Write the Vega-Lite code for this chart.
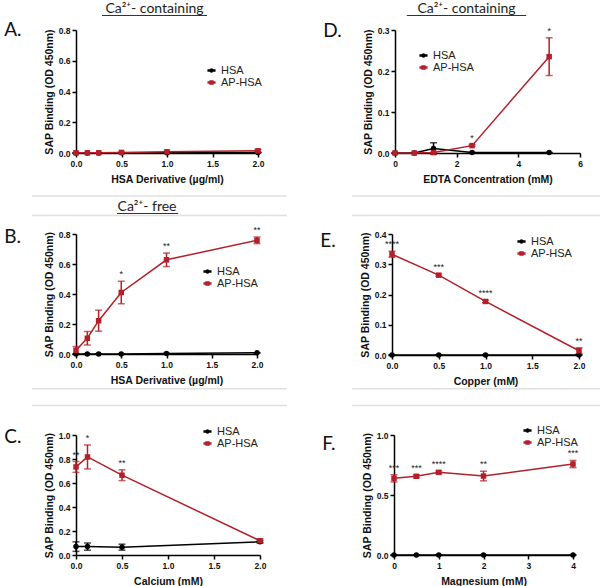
{
  "$schema": "https://vega.github.io/schema/vega-lite/v6.json",
  "padding": {"left": 4, "top": 2, "right": 0, "bottom": 0},
  "background": "white",
  "datasets": {
    "d": [
      {"p":"A","s":"HSA","x":0,"y":0,"e":0},
      {"p":"A","s":"HSA","x":0.125,"y":0,"e":0},
      {"p":"A","s":"HSA","x":0.25,"y":0,"e":0},
      {"p":"A","s":"HSA","x":0.5,"y":0.001,"e":0},
      {"p":"A","s":"HSA","x":1,"y":0.002,"e":0},
      {"p":"A","s":"HSA","x":2,"y":0.003,"e":0},
      {"p":"A","s":"AP-HSA","x":0,"y":0.001,"e":0},
      {"p":"A","s":"AP-HSA","x":0.125,"y":0.001,"e":0},
      {"p":"A","s":"AP-HSA","x":0.25,"y":0.001,"e":0},
      {"p":"A","s":"AP-HSA","x":0.5,"y":0.004,"e":0.002},
      {"p":"A","s":"AP-HSA","x":1,"y":0.008,"e":0.004},
      {"p":"A","s":"AP-HSA","x":2,"y":0.014,"e":0.01},
      {"p":"B","s":"HSA","x":0,"y":0,"e":0},
      {"p":"B","s":"HSA","x":0.125,"y":0,"e":0},
      {"p":"B","s":"HSA","x":0.25,"y":0,"e":0},
      {"p":"B","s":"HSA","x":0.5,"y":0,"e":0},
      {"p":"B","s":"HSA","x":1,"y":0.003,"e":0},
      {"p":"B","s":"HSA","x":2,"y":0.008,"e":0},
      {"p":"B","s":"AP-HSA","x":0,"y":0.025,"e":0.025},
      {"p":"B","s":"AP-HSA","x":0.125,"y":0.105,"e":0.045},
      {"p":"B","s":"AP-HSA","x":0.25,"y":0.222,"e":0.07},
      {"p":"B","s":"AP-HSA","x":0.5,"y":0.41,"e":0.075,"sig":"*"},
      {"p":"B","s":"AP-HSA","x":1,"y":0.628,"e":0.045,"sig":"**"},
      {"p":"B","s":"AP-HSA","x":2,"y":0.758,"e":0.022,"sig":"**"},
      {"p":"C","s":"HSA","x":0,"y":0.07,"e":0.04},
      {"p":"C","s":"HSA","x":0.125,"y":0.07,"e":0.03},
      {"p":"C","s":"HSA","x":0.5,"y":0.065,"e":0.025},
      {"p":"C","s":"HSA","x":2,"y":0.11,"e":0.01},
      {"p":"C","s":"AP-HSA","x":0,"y":0.734,"e":0.045,"sig":"**"},
      {"p":"C","s":"AP-HSA","x":0.125,"y":0.817,"e":0.1,"sig":"*"},
      {"p":"C","s":"AP-HSA","x":0.5,"y":0.665,"e":0.045,"sig":"**"},
      {"p":"C","s":"AP-HSA","x":2,"y":0.119,"e":0.015},
      {"p":"D","s":"HSA","x":0,"y":0,"e":0},
      {"p":"D","s":"HSA","x":0.625,"y":0,"e":0},
      {"p":"D","s":"HSA","x":1.25,"y":0.011,"e":0.014},
      {"p":"D","s":"HSA","x":2.5,"y":0.001,"e":0},
      {"p":"D","s":"HSA","x":5,"y":0.001,"e":0},
      {"p":"D","s":"AP-HSA","x":0,"y":0,"e":0},
      {"p":"D","s":"AP-HSA","x":0.625,"y":0,"e":0},
      {"p":"D","s":"AP-HSA","x":1.25,"y":0.001,"e":0},
      {"p":"D","s":"AP-HSA","x":2.5,"y":0.018,"e":0.002,"sig":"*"},
      {"p":"D","s":"AP-HSA","x":5,"y":0.235,"e":0.046,"sig":"*"},
      {"p":"E","s":"HSA","x":0,"y":0,"e":0},
      {"p":"E","s":"HSA","x":0.5,"y":0,"e":0},
      {"p":"E","s":"HSA","x":1,"y":0,"e":0},
      {"p":"E","s":"HSA","x":2,"y":0,"e":0},
      {"p":"E","s":"AP-HSA","x":0,"y":0.333,"e":0.01,"sig":"****"},
      {"p":"E","s":"AP-HSA","x":0.5,"y":0.264,"e":0.004,"sig":"***"},
      {"p":"E","s":"AP-HSA","x":1,"y":0.177,"e":0.004,"sig":"****"},
      {"p":"E","s":"AP-HSA","x":2,"y":0.014,"e":0.01,"sig":"**"},
      {"p":"F","s":"HSA","x":0,"y":0,"e":0},
      {"p":"F","s":"HSA","x":0.5,"y":0,"e":0},
      {"p":"F","s":"HSA","x":1,"y":0,"e":0},
      {"p":"F","s":"HSA","x":2,"y":0,"e":0},
      {"p":"F","s":"HSA","x":4,"y":0,"e":0},
      {"p":"F","s":"AP-HSA","x":0,"y":0.639,"e":0.03,"sig":"***"},
      {"p":"F","s":"AP-HSA","x":0.5,"y":0.656,"e":0.012,"sig":"***"},
      {"p":"F","s":"AP-HSA","x":1,"y":0.689,"e":0.012,"sig":"****"},
      {"p":"F","s":"AP-HSA","x":2,"y":0.658,"e":0.04,"sig":"**"},
      {"p":"F","s":"AP-HSA","x":4,"y":0.758,"e":0.03,"sig":"***"}
    ]
  },
  "config": {
    "view": {"stroke": null},
    "axis": {"domainColor": "#000", "domainWidth": 1.5, "tickColor": "#000", "tickWidth": 1.5, "tickSize": 4, "grid": false,
      "labelFont": "Liberation Sans", "labelFontWeight": "bold", "labelFontSize": 8.5, "labelColor": "#111", "labelPadding": 2, "labelFlush": false,
      "titleFont": "Liberation Sans", "titleFontWeight": "bold", "titleFontSize": 10.5, "titleColor": "#111", "titlePadding": 4},
    "axisX": {"titlePadding": 7},
    "legend": {"labelFont": "Liberation Sans", "labelFontSize": 11, "labelColor": "#222", "symbolSize": 36, "rowPadding": 0, "labelOffset": 4, "padding": 0, "symbolOpacity": 1},
    "title": {"font": "Lato", "fontSize": 19, "fontWeight": "normal", "color": "#111", "anchor": "start", "frame": "bounds", "offset": 0, "baseline": "alphabetic"}
  },
  "spacing": 0,
  "resolve": {"scale": {"color": "independent", "shape": "independent"}, "legend": {"color": "independent", "shape": "independent"}},
  "vconcat": [
    {
      "width": 521, "height": 19,
      "data": {"values": [{}]},
      "layer": [
        {"mark": {"type": "text", "text": "Ca²⁺- containing", "font": "Lato", "fontSize": 14, "color": "#222", "baseline": "alphabetic"},
         "encoding": {"x": {"datum": 0.2575, "type": "quantitative", "scale": {"domain": [0, 1], "range": [-76, 524]}, "axis": null}, "y": {"datum": 0.421, "type": "quantitative", "scale": {"domain": [0, 1]}, "axis": null}}},
        {"mark": {"type": "text", "text": "Ca²⁺- containing", "font": "Lato", "fontSize": 14, "color": "#222", "baseline": "alphabetic"},
         "encoding": {"x": {"datum": 0.7775, "type": "quantitative"}, "y": {"datum": 0.421, "type": "quantitative"}}},
        {"mark": {"type": "rule", "color": "#333", "strokeWidth": 1},
         "encoding": {"x": {"datum": 0.17, "type": "quantitative"}, "x2": {"datum": 0.345}, "y": {"datum": 0.289, "type": "quantitative"}}},
        {"mark": {"type": "rule", "color": "#333", "strokeWidth": 1},
         "encoding": {"x": {"datum": 0.678, "type": "quantitative"}, "x2": {"datum": 0.877}, "y": {"datum": 0.289, "type": "quantitative"}}}
      ]
    },
    {
      "spacing": 59,
      "resolve": {"scale": {"color": "independent", "shape": "independent"}, "legend": {"color": "independent", "shape": "independent"}},
      "hconcat": [
        {
          "width": 182, "height": 123,
          "title": {"text": "A.", "dx": -40, "dy": 18},
          "data": {"name": "d"},
          "transform": [{"filter": "datum.p == 'A'"}],
          "encoding": {
            "x": {"field": "x", "type": "quantitative", "scale": {"domain": [0, 2], "nice": false, "zero": false}, "axis": {"values": [0, 0.5, 1, 1.5, 2], "format": ".1f", "title": "HSA Derivative (µg/ml)"}},
            "y": {"field": "y", "type": "quantitative", "scale": {"domain": [0, 0.8], "nice": false}, "axis": {"values": [0, 0.2, 0.4, 0.6, 0.8], "format": ".1f", "title": "SAP Binding (OD 450nm)"}},
            "color": {"field": "s", "type": "nominal", "scale": {"domain": ["HSA", "AP-HSA"], "range": ["#000000", "#b3202a"]},
              "legend": {"orient": "none", "legendX": 130, "legendY": 35, "title": null}}
          },
          "layer": [
            {"transform": [{"filter": "false"}], "mark": {"type": "point", "filled": true, "opacity": 1},
             "encoding": {"shape": {"field": "s", "type": "nominal", "scale": {"domain": ["HSA", "AP-HSA"], "range": ["M-1.1,-0.14H1.1V0.14H-1.1ZM0.5,0A0.5,0.5,0,1,1,-0.5,0A0.5,0.5,0,1,1,0.5,0Z", "M-1.1,-0.14H1.1V0.14H-1.1ZM-0.48,-0.48H0.48V0.48H-0.48Z"]},
               "legend": {"orient": "none", "legendX": 130, "legendY": 35, "title": null}}}},
            {"mark": {"type": "errorbar", "ticks": {"size": 7}, "thickness": 1.5}, "encoding": {"yError": {"field": "e"}}},
            {"mark": {"type": "line", "strokeWidth": 1.5}},
            {"transform": [{"filter": "datum.s == 'HSA'"}], "mark": {"type": "point", "shape": "circle", "filled": true, "size": 30, "opacity": 1}},
            {"transform": [{"filter": "datum.s == 'AP-HSA'"}], "mark": {"type": "point", "shape": "square", "filled": true, "size": 30, "opacity": 1}},
            {"transform": [{"filter": "datum.sig"}, {"calculate": "datum.y + datum.e", "as": "hi"}], "mark": {"type": "text", "dy": -4, "fontSize": 9, "font": "Liberation Sans", "baseline": "alphabetic"}, "encoding": {"y": {"field": "hi", "type": "quantitative"}, "text": {"field": "sig"}, "color": {"value": "#222"}}}
          ]
        },
        {
          "width": 185, "height": 123,
          "title": {"text": "D.", "dx": -40, "dy": 19},
          "data": {"name": "d"},
          "transform": [{"filter": "datum.p == 'D'"}],
          "encoding": {
            "x": {"field": "x", "type": "quantitative", "scale": {"domain": [0, 6], "nice": false, "zero": false}, "axis": {"values": [0, 2, 4, 6], "format": "d", "title": "EDTA Concentration (mM)"}},
            "y": {"field": "y", "type": "quantitative", "scale": {"domain": [0, 0.3], "nice": false}, "axis": {"values": [0, 0.1, 0.2, 0.3], "format": ".1f", "title": "SAP Binding (OD 450nm)"}},
            "color": {"field": "s", "type": "nominal", "scale": {"domain": ["HSA", "AP-HSA"], "range": ["#000000", "#b3202a"]},
              "legend": {"orient": "none", "legendX": 23, "legendY": 20, "title": null}}
          },
          "layer": [
            {"transform": [{"filter": "false"}], "mark": {"type": "point", "filled": true, "opacity": 1},
             "encoding": {"shape": {"field": "s", "type": "nominal", "scale": {"domain": ["HSA", "AP-HSA"], "range": ["M-1.1,-0.14H1.1V0.14H-1.1ZM0.5,0A0.5,0.5,0,1,1,-0.5,0A0.5,0.5,0,1,1,0.5,0Z", "M-1.1,-0.14H1.1V0.14H-1.1ZM-0.48,-0.48H0.48V0.48H-0.48Z"]},
               "legend": {"orient": "none", "legendX": 23, "legendY": 20, "title": null}}}},
            {"mark": {"type": "errorbar", "ticks": {"size": 7}, "thickness": 1.5}, "encoding": {"yError": {"field": "e"}}},
            {"mark": {"type": "line", "strokeWidth": 1.5}},
            {"transform": [{"filter": "datum.s == 'HSA'"}], "mark": {"type": "point", "shape": "circle", "filled": true, "size": 30, "opacity": 1}},
            {"transform": [{"filter": "datum.s == 'AP-HSA'"}], "mark": {"type": "point", "shape": "square", "filled": true, "size": 30, "opacity": 1}},
            {"transform": [{"filter": "datum.sig"}, {"calculate": "datum.y + datum.e", "as": "hi"}], "mark": {"type": "text", "dy": -4, "fontSize": 9, "font": "Liberation Sans", "baseline": "alphabetic"}, "encoding": {"y": {"field": "hi", "type": "quantitative"}, "text": {"field": "sig"}, "color": {"value": "#222"}}}
          ]
        }
      ]
    },
    {
      "width": 521, "height": 41,
      "data": {"values": [{}]},
      "layer": [
        {"mark": {"type": "rule", "color": "#e0e0e0", "strokeWidth": 1.5},
         "encoding": {"x": {"datum": 0.053, "type": "quantitative", "scale": {"domain": [0, 1], "range": [-76, 524]}, "axis": null}, "x2": {"datum": 0.478}, "y": {"datum": 0.732, "type": "quantitative", "scale": {"domain": [0, 1]}, "axis": null}}},
        {"mark": {"type": "rule", "color": "#e0e0e0", "strokeWidth": 1.5},
         "encoding": {"x": {"datum": 0.587, "type": "quantitative"}, "x2": {"datum": 1}, "y": {"datum": 0.732, "type": "quantitative"}}},
        {"mark": {"type": "rule", "color": "#e0e0e0", "strokeWidth": 1.5},
         "encoding": {"x": {"datum": 0.053, "type": "quantitative"}, "x2": {"datum": 0.478}, "y": {"datum": 0.256, "type": "quantitative"}}},
        {"mark": {"type": "rule", "color": "#e0e0e0", "strokeWidth": 1.5},
         "encoding": {"x": {"datum": 0.587, "type": "quantitative"}, "x2": {"datum": 1}, "y": {"datum": 0.256, "type": "quantitative"}}},
        {"mark": {"type": "text", "text": "Ca²⁺- free", "font": "Lato", "fontSize": 14, "color": "#222", "baseline": "alphabetic"},
         "encoding": {"x": {"datum": 0.245, "type": "quantitative"}, "y": {"datum": 0.366, "type": "quantitative"}}},
        {"mark": {"type": "rule", "color": "#333", "strokeWidth": 1},
         "encoding": {"x": {"datum": 0.195, "type": "quantitative"}, "x2": {"datum": 0.297}, "y": {"datum": 0.305, "type": "quantitative"}}}
      ]
    },
    {
      "spacing": 57,
      "resolve": {"scale": {"color": "independent", "shape": "independent"}, "legend": {"color": "independent", "shape": "independent"}},
      "hconcat": [
        {
          "width": 181, "height": 120,
          "title": {"text": "B.", "dx": -40, "dy": 25},
          "data": {"name": "d"},
          "transform": [{"filter": "datum.p == 'B'"}],
          "encoding": {
            "x": {"field": "x", "type": "quantitative", "scale": {"domain": [0, 2], "nice": false, "zero": false}, "axis": {"values": [0, 0.5, 1, 1.5, 2], "format": ".1f", "title": "HSA Derivative (µg/ml)"}},
            "y": {"field": "y", "type": "quantitative", "scale": {"domain": [0, 0.8], "nice": false}, "axis": {"values": [0, 0.2, 0.4, 0.6, 0.8], "format": ".1f", "title": "SAP Binding (OD 450nm)"}},
            "color": {"field": "s", "type": "nominal", "scale": {"domain": ["HSA", "AP-HSA"], "range": ["#000000", "#b3202a"]},
              "legend": {"orient": "none", "legendX": 126, "legendY": 32, "title": null}}
          },
          "layer": [
            {"transform": [{"filter": "false"}], "mark": {"type": "point", "filled": true, "opacity": 1},
             "encoding": {"shape": {"field": "s", "type": "nominal", "scale": {"domain": ["HSA", "AP-HSA"], "range": ["M-1.1,-0.14H1.1V0.14H-1.1ZM0.5,0A0.5,0.5,0,1,1,-0.5,0A0.5,0.5,0,1,1,0.5,0Z", "M-1.1,-0.14H1.1V0.14H-1.1ZM-0.48,-0.48H0.48V0.48H-0.48Z"]},
               "legend": {"orient": "none", "legendX": 126, "legendY": 32, "title": null}}}},
            {"mark": {"type": "errorbar", "ticks": {"size": 7}, "thickness": 1.5}, "encoding": {"yError": {"field": "e"}}},
            {"mark": {"type": "line", "strokeWidth": 1.5}},
            {"transform": [{"filter": "datum.s == 'HSA'"}], "mark": {"type": "point", "shape": "circle", "filled": true, "size": 30, "opacity": 1}},
            {"transform": [{"filter": "datum.s == 'AP-HSA'"}], "mark": {"type": "point", "shape": "square", "filled": true, "size": 30, "opacity": 1}},
            {"transform": [{"filter": "datum.sig"}, {"calculate": "datum.y + datum.e", "as": "hi"}], "mark": {"type": "text", "dy": -4, "fontSize": 9, "font": "Liberation Sans", "baseline": "alphabetic"}, "encoding": {"y": {"field": "hi", "type": "quantitative"}, "text": {"field": "sig"}, "color": {"value": "#222"}}}
          ]
        },
        {
          "width": 187, "height": 121,
          "title": {"text": "E.", "dx": -40, "dy": 25},
          "data": {"name": "d"},
          "transform": [{"filter": "datum.p == 'E'"}],
          "encoding": {
            "x": {"field": "x", "type": "quantitative", "scale": {"domain": [0, 2], "nice": false, "zero": false}, "axis": {"values": [0, 0.5, 1, 1.5, 2], "format": ".1f", "title": "Copper (mM)"}},
            "y": {"field": "y", "type": "quantitative", "scale": {"domain": [0, 0.4], "nice": false}, "axis": {"values": [0, 0.1, 0.2, 0.3, 0.4], "format": ".1f", "title": "SAP Binding (OD 450nm)"}},
            "color": {"field": "s", "type": "nominal", "scale": {"domain": ["HSA", "AP-HSA"], "range": ["#000000", "#b3202a"]},
              "legend": {"orient": "none", "legendX": 124, "legendY": 2, "title": null}}
          },
          "layer": [
            {"transform": [{"filter": "false"}], "mark": {"type": "point", "filled": true, "opacity": 1},
             "encoding": {"shape": {"field": "s", "type": "nominal", "scale": {"domain": ["HSA", "AP-HSA"], "range": ["M-1.1,-0.14H1.1V0.14H-1.1ZM0.5,0A0.5,0.5,0,1,1,-0.5,0A0.5,0.5,0,1,1,0.5,0Z", "M-1.1,-0.14H1.1V0.14H-1.1ZM-0.48,-0.48H0.48V0.48H-0.48Z"]},
               "legend": {"orient": "none", "legendX": 124, "legendY": 2, "title": null}}}},
            {"mark": {"type": "errorbar", "ticks": {"size": 7}, "thickness": 1.5}, "encoding": {"yError": {"field": "e"}}},
            {"mark": {"type": "line", "strokeWidth": 1.5}},
            {"transform": [{"filter": "datum.s == 'HSA'"}], "mark": {"type": "point", "shape": "circle", "filled": true, "size": 30, "opacity": 1}},
            {"transform": [{"filter": "datum.s == 'AP-HSA'"}], "mark": {"type": "point", "shape": "square", "filled": true, "size": 30, "opacity": 1}},
            {"transform": [{"filter": "datum.sig"}, {"calculate": "datum.y + datum.e", "as": "hi"}], "mark": {"type": "text", "dy": -4, "fontSize": 9, "font": "Liberation Sans", "baseline": "alphabetic"}, "encoding": {"y": {"field": "hi", "type": "quantitative"}, "text": {"field": "sig"}, "color": {"value": "#222"}}}
          ]
        }
      ]
    },
    {
      "width": 521, "height": 37,
      "data": {"values": [{}]},
      "layer": [
        {"mark": {"type": "rule", "color": "#e0e0e0", "strokeWidth": 1.5},
         "encoding": {"x": {"datum": 0.053, "type": "quantitative", "scale": {"domain": [0, 1], "range": [-76, 524]}, "axis": null}, "x2": {"datum": 0.478}, "y": {"datum": 0.98, "type": "quantitative", "scale": {"domain": [0, 1]}, "axis": null}}},
        {"mark": {"type": "rule", "color": "#e0e0e0", "strokeWidth": 1.5},
         "encoding": {"x": {"datum": 0.587, "type": "quantitative"}, "x2": {"datum": 1}, "y": {"datum": 0.98, "type": "quantitative"}}},
        {"mark": {"type": "rule", "color": "#e0e0e0", "strokeWidth": 1.5},
         "encoding": {"x": {"datum": 0.053, "type": "quantitative"}, "x2": {"datum": 0.478}, "y": {"datum": 0.527, "type": "quantitative"}}},
        {"mark": {"type": "rule", "color": "#e0e0e0", "strokeWidth": 1.5},
         "encoding": {"x": {"datum": 0.587, "type": "quantitative"}, "x2": {"datum": 1}, "y": {"datum": 0.527, "type": "quantitative"}}}
      ]
    },
    {
      "spacing": 56,
      "resolve": {"scale": {"color": "independent", "shape": "independent"}, "legend": {"color": "independent", "shape": "independent"}},
      "hconcat": [
        {
          "width": 184, "height": 120,
          "title": {"text": "C.", "dx": -40, "dy": 25},
          "data": {"name": "d"},
          "transform": [{"filter": "datum.p == 'C'"}],
          "encoding": {
            "x": {"field": "x", "type": "quantitative", "scale": {"domain": [0, 2], "nice": false, "zero": false}, "axis": {"values": [0, 0.5, 1, 1.5, 2], "format": ".1f", "title": "Calcium (mM)"}},
            "y": {"field": "y", "type": "quantitative", "scale": {"domain": [0, 1], "nice": false}, "axis": {"values": [0, 0.2, 0.4, 0.6, 0.8, 1], "format": ".1f", "title": "SAP Binding (OD 450nm)"}},
            "color": {"field": "s", "type": "nominal", "scale": {"domain": ["HSA", "AP-HSA"], "range": ["#000000", "#b3202a"]},
              "legend": {"orient": "none", "legendX": 126, "legendY": -9, "title": null}}
          },
          "layer": [
            {"transform": [{"filter": "false"}], "mark": {"type": "point", "filled": true, "opacity": 1},
             "encoding": {"shape": {"field": "s", "type": "nominal", "scale": {"domain": ["HSA", "AP-HSA"], "range": ["M-1.1,-0.14H1.1V0.14H-1.1ZM0.5,0A0.5,0.5,0,1,1,-0.5,0A0.5,0.5,0,1,1,0.5,0Z", "M-1.1,-0.14H1.1V0.14H-1.1ZM-0.48,-0.48H0.48V0.48H-0.48Z"]},
               "legend": {"orient": "none", "legendX": 126, "legendY": -9, "title": null}}}},
            {"mark": {"type": "errorbar", "ticks": {"size": 7}, "thickness": 1.5}, "encoding": {"yError": {"field": "e"}}},
            {"mark": {"type": "line", "strokeWidth": 1.5}},
            {"transform": [{"filter": "datum.s == 'HSA'"}], "mark": {"type": "point", "shape": "circle", "filled": true, "size": 30, "opacity": 1}},
            {"transform": [{"filter": "datum.s == 'AP-HSA'"}], "mark": {"type": "point", "shape": "square", "filled": true, "size": 30, "opacity": 1}},
            {"transform": [{"filter": "datum.sig"}, {"calculate": "datum.y + datum.e", "as": "hi"}], "mark": {"type": "text", "dy": -4, "fontSize": 9, "font": "Liberation Sans", "baseline": "alphabetic"}, "encoding": {"y": {"field": "hi", "type": "quantitative"}, "text": {"field": "sig"}, "color": {"value": "#222"}}}
          ]
        },
        {
          "width": 179, "height": 120,
          "title": {"text": "F.", "dx": -40, "dy": 33},
          "data": {"name": "d"},
          "transform": [{"filter": "datum.p == 'F'"}],
          "encoding": {
            "x": {"field": "x", "type": "quantitative", "scale": {"domain": [0, 4], "nice": false, "zero": false}, "axis": {"values": [0, 1, 2, 3, 4], "format": "d", "title": "Magnesium (mM)"}},
            "y": {"field": "y", "type": "quantitative", "scale": {"domain": [0, 1], "nice": false}, "axis": {"values": [0, 0.5, 1], "format": ".1f", "title": "SAP Binding (OD 450nm)"}},
            "color": {"field": "s", "type": "nominal", "scale": {"domain": ["HSA", "AP-HSA"], "range": ["#000000", "#b3202a"]},
              "legend": {"orient": "none", "legendX": 128, "legendY": -10, "title": null}}
          },
          "layer": [
            {"transform": [{"filter": "false"}], "mark": {"type": "point", "filled": true, "opacity": 1},
             "encoding": {"shape": {"field": "s", "type": "nominal", "scale": {"domain": ["HSA", "AP-HSA"], "range": ["M-1.1,-0.14H1.1V0.14H-1.1ZM0.5,0A0.5,0.5,0,1,1,-0.5,0A0.5,0.5,0,1,1,0.5,0Z", "M-1.1,-0.14H1.1V0.14H-1.1ZM-0.48,-0.48H0.48V0.48H-0.48Z"]},
               "legend": {"orient": "none", "legendX": 128, "legendY": -10, "title": null}}}},
            {"mark": {"type": "errorbar", "ticks": {"size": 7}, "thickness": 1.5}, "encoding": {"yError": {"field": "e"}}},
            {"mark": {"type": "line", "strokeWidth": 1.5}},
            {"transform": [{"filter": "datum.s == 'HSA'"}], "mark": {"type": "point", "shape": "circle", "filled": true, "size": 30, "opacity": 1}},
            {"transform": [{"filter": "datum.s == 'AP-HSA'"}], "mark": {"type": "point", "shape": "square", "filled": true, "size": 30, "opacity": 1}},
            {"transform": [{"filter": "datum.sig"}, {"calculate": "datum.y + datum.e", "as": "hi"}], "mark": {"type": "text", "dy": -4, "fontSize": 9, "font": "Liberation Sans", "baseline": "alphabetic"}, "encoding": {"y": {"field": "hi", "type": "quantitative"}, "text": {"field": "sig"}, "color": {"value": "#222"}}}
          ]
        }
      ]
    }
  ]
}
